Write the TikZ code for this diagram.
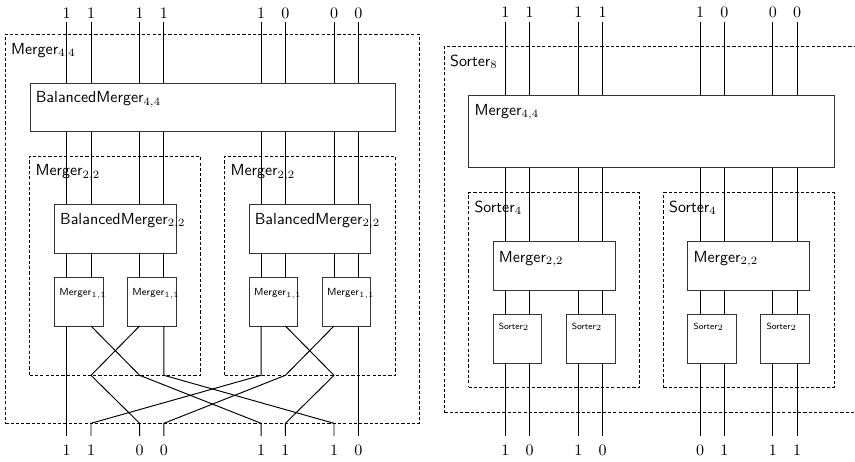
\documentclass[tikz,border=0pt]{standalone}
\usetikzlibrary{fit}
\begin{document}
\begin{tikzpicture}[x=0.625pt,y=-0.625pt,
  wire/.style={line width=0.6pt,black},
  sbox/.style={draw=black!80,line width=0.6pt,inner sep=0pt,outer sep=0pt},
  dbox/.style={draw=black,line width=0.45pt,dash pattern=on 2pt off 1.3pt,inner sep=0pt,outer sep=0pt},
  lbl/.style={font=\sffamily,anchor=base west,inner sep=0pt},
  lblm/.style={font=\sffamily\fontsize{6.4}{7.5}\selectfont,anchor=base west,inner sep=0pt},
  lbls/.style={font=\sffamily\fontsize{5.6}{6.5}\selectfont,anchor=base west,inner sep=0pt},
  dig/.style={inner sep=0pt,anchor=center}]
\useasboundingbox (0,0) rectangle (855,462);
\clip (0,0) rectangle (855,462);

% ---------------- left: Merger_{4,4} ----------------
\node[dbox,fit={(5.3,34.3) (419.3,423.3)}] (outerL) {};
\node[sbox,fit={(30,83) (395.3,131.7)}] (bm44) {};
\node[dbox,fit={(29.7,156) (200.3,375.3)}] (mg22a) {};
\node[dbox,fit={(224.7,156) (395.3,375.3)}] (mg22b) {};
\node[sbox,fit={(54.3,204.3) (176,253.3)}] (bm22a) {};
\node[sbox,fit={(249,204.3) (370.7,253.3)}] (bm22b) {};
\node[sbox,fit={(54.3,277.7) (103,326)}] (m11a) {};
\node[sbox,fit={(127.3,277.7) (176,326)}] (m11b) {};
\node[sbox,fit={(249,277.7) (297.3,326)}] (m11c) {};
\node[sbox,fit={(322,277.7) (370.7,326)}] (m11d) {};

\node[lbl] (tOuterL) at ([shift={(5.5,20)}]outerL.north west) {Merger$_{4,4}$};
\node[lbl] (tbm44) at ([shift={(5.5,20)}]bm44.north west) {BalancedMerger$_{4,4}$};
\node[lbl] (tmg22a) at ([shift={(5.5,20)}]mg22a.north west) {Merger$_{2,2}$};
\node[lbl] (tmg22b) at ([shift={(5.5,20)}]mg22b.north west) {Merger$_{2,2}$};
\node[lbl] (tbm22a) at ([shift={(5.5,20)}]bm22a.north west) {BalancedMerger$_{2,2}$};
\node[lbl] (tbm22b) at ([shift={(5.5,20)}]bm22b.north west) {BalancedMerger$_{2,2}$};
\foreach \b in {m11a,m11b,m11c,m11d}
  \node[lblm] (t\b) at ([shift={(4.7,18)}]\b.north west) {Merger$_{1,1}$};

\foreach \k/\x in {1/66.7,2/91,3/139.6,4/163.9,5/261.1,6/285.4,7/334,8/358.3}{
  \coordinate (L\k) at (\x,22);
  \coordinate (Lb\k) at (\x,436);
}
\foreach \k/\b/\m in {1/bm22a/m11a,2/bm22a/m11a,3/bm22a/m11b,4/bm22a/m11b,
                      5/bm22b/m11c,6/bm22b/m11c,7/bm22b/m11d,8/bm22b/m11d}
  \draw[wire] (L\k) -- (L\k |- bm44.north)
              (L\k |- bm44.south) -- (L\k |- \b.north)
              (L\k |- \b.south) -- (L\k |- \m.north);
% crossing network
\draw[wire] (L1 |- m11a.south) -- (Lb1);
\draw[wire] (L8 |- m11d.south) -- (Lb8);
\draw[wire] (L2 |- m11a.south) -- (L3 |- mg22a.south) -- (L5 |- outerL.south) -- (Lb5);
\draw[wire] (L3 |- m11b.south) -- (L2 |- mg22a.south) -- (L3 |- outerL.south) -- (Lb3);
\draw[wire] (L4 |- m11b.south) -- (L4 |- mg22a.south) -- (L7 |- outerL.south) -- (Lb7);
\draw[wire] (L5 |- m11c.south) -- (L5 |- mg22b.south) -- (L2 |- outerL.south) -- (Lb2);
\draw[wire] (L6 |- m11c.south) -- (L7 |- mg22b.south) -- (L6 |- outerL.south) -- (Lb6);
\draw[wire] (L7 |- m11d.south) -- (L6 |- mg22b.south) -- (L4 |- outerL.south) -- (Lb4);

\foreach \k/\t/\b in {1/1/1,2/1/1,3/1/0,4/1/0,5/1/1,6/0/1,7/0/1,8/0/0}{
  \node[dig] (ldt\k) at ([shift={(0,-8.8)}]L\k) {$\t$};
  \node[dig] (ldb\k) at ([shift={(0,14.8)}]Lb\k) {$\b$};
}

% ---------------- right: Sorter_8 ----------------
\node[dbox,fit={(444.3,46.7) (858.7,412)}] (outerR) {};
\node[sbox,fit={(468.7,95.3) (834.3,167.7)}] (m44) {};
\node[dbox,fit={(468.7,192.7) (639.3,387.3)}] (so4a) {};
\node[dbox,fit={(663.3,192.7) (834.3,387.3)}] (so4b) {};
\node[sbox,fit={(493,241) (615,290)}] (m22a) {};
\node[sbox,fit={(687.7,241) (809.3,290)}] (m22b) {};
\node[sbox,fit={(493,314.3) (541.7,363)}] (so2a) {};
\node[sbox,fit={(566,314.3) (615,363)}] (so2b) {};
\node[sbox,fit={(687.7,314.3) (736.7,363)}] (so2c) {};
\node[sbox,fit={(760.7,314.3) (809.3,363)}] (so2d) {};

\node[lbl] (tOuterR) at ([shift={(5.5,19.5)}]outerR.north west) {Sorter$_{8}$};
\node[lbl] (tm44) at ([shift={(5.5,20)}]m44.north west) {Merger$_{4,4}$};
\node[lbl] (tso4a) at ([shift={(5.5,19.5)}]so4a.north west) {Sorter$_{4}$};
\node[lbl] (tso4b) at ([shift={(5.5,19.5)}]so4b.north west) {Sorter$_{4}$};
\node[lbl] (tm22a) at ([shift={(5.5,21)}]m22a.north west) {Merger$_{2,2}$};
\node[lbl] (tm22b) at ([shift={(5.5,21)}]m22b.north west) {Merger$_{2,2}$};
\foreach \b in {so2a,so2b,so2c,so2d}
  \node[lbls] (t\b) at ([shift={(5.6,14.7)}]\b.north west) {Sorter$_{2}$};

\foreach \k/\x in {1/505.3,2/529.6,3/578.3,4/602.6,5/700,6/724.3,7/772.9,8/797.2}{
  \coordinate (R\k) at (\x,22);
  \coordinate (Rb\k) at (\x,436);
}
\foreach \k/\m/\s in {1/m22a/so2a,2/m22a/so2a,3/m22a/so2b,4/m22a/so2b,
                      5/m22b/so2c,6/m22b/so2c,7/m22b/so2d,8/m22b/so2d}
  \draw[wire] (R\k) -- (R\k |- m44.north)
              (R\k |- m44.south) -- (R\k |- \m.north)
              (R\k |- \m.south) -- (R\k |- \s.north)
              (R\k |- \s.south) -- (Rb\k);

\foreach \k/\t/\b in {1/1/1,2/1/0,3/1/1,4/1/0,5/1/0,6/0/1,7/0/1,8/0/1}{
  \node[dig] (rdt\k) at ([shift={(0,-9.3)}]R\k) {$\t$};
  \node[dig] (rdb\k) at ([shift={(0,14.2)}]Rb\k) {$\b$};
}
\end{tikzpicture}
\end{document}
